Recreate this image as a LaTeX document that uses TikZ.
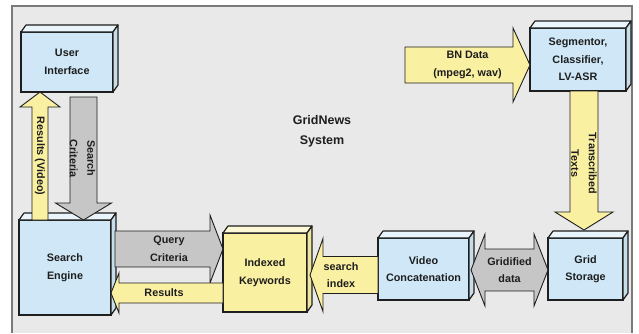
\documentclass[tikz,border=0pt]{standalone}
\usepackage{fontspec}
\setmainfont{Liberation Sans}
\usetikzlibrary{calc}

\definecolor{boxblue}{HTML}{CFE7F6}
\definecolor{boxyellow}{HTML}{FAF0A2}
\definecolor{arrgray}{HTML}{C6C6C6}
\definecolor{panel}{HTML}{E9E9E9}
\definecolor{framegray}{HTML}{7A7A7A}
\definecolor{ink}{HTML}{1E1E1E}

\newcommand{\lblfont}{\fontsize{10.8}{17.5}\selectfont\bfseries}

% top and right faces of a box node
\newcommand{\boxfaces}[2]{%
  \draw[face, fill=#2!45!white] (#1.north west) -- ++(5,-7) -- ($(#1.north east)+(5,-7)$) -- (#1.north east) -- cycle;
  \draw[face, fill=#2!90!gray] (#1.north east) -- ++(5,-7) -- ($(#1.south east)+(5,-7)$) -- (#1.south east) -- cycle;
}

\tikzset{
  box/.style={draw=ink, line width=1.2pt, fill=boxblue, outer sep=0pt, inner sep=2pt,
    align=center, font=\lblfont, text=ink},
  face/.style={draw=ink, line width=1.2pt, line join=round},
  lbl/.style={font=\lblfont, text=ink, align=center, inner sep=0pt},
  yarrow/.style={draw=ink, line width=0.9pt, fill=boxyellow, line join=miter},
  garrow/.style={draw=ink, line width=0.9pt, fill=arrgray, line join=miter},
  % block arrow: half shaft, half head, head length
  fat/.style n args={3}{to path={
    let \p1=(\tikztostart), \p2=(\tikztotarget),
        \n1={atan2(\y2-\y1,\x2-\x1)}, \n2={veclen(\x2-\x1,\y2-\y1)}
    in [shift={(\p1)}, rotate=\n1]
       (0pt,-#1) -- (\n2-#3,-#1) -- (\n2-#3,-#2) -- (\n2,0pt)
       -- (\n2-#3,#2) -- (\n2-#3,#1) -- (0pt,#1) -- cycle}},
  fatboth/.style n args={3}{to path={
    let \p1=(\tikztostart), \p2=(\tikztotarget),
        \n1={atan2(\y2-\y1,\x2-\x1)}, \n2={veclen(\x2-\x1,\y2-\y1)}
    in [shift={(\p1)}, rotate=\n1]
       (0pt,0pt) -- (#3,-#2) -- (#3,-#1) -- (\n2-#3,-#1) -- (\n2-#3,-#2) -- (\n2,0pt)
       -- (\n2-#3,#2) -- (\n2-#3,#1) -- (#3,#1) -- (#3,#2) -- cycle}},
}

\begin{document}
\begin{tikzpicture}[x=1pt, y=-1pt]
  \useasboundingbox (0,0) rectangle (639,333);
  \fill[white] (0,0) rectangle (639,333);

  % panel
  \fill[panel] (12,6) rectangle (632,333);
  \draw[framegray, line width=1.2pt] (12,333) -- (12,6) -- (632,6) -- (632,333);

  % boxes
  \node[box, minimum width=92, minimum height=60] (ui) at (67,62) {User\\Interface};
  \node[box, minimum width=96, minimum height=63] (seg) at (578,59.5) {Segmentor,\\Classifier,\\LV-ASR};
  \node[box, minimum width=92, minimum height=95] (se) at (65,267.5) {Search\\Engine};
  \node[box, fill=boxyellow, minimum width=84, minimum height=79] (ik) at (265,272.5) {Indexed\\Keywords};
  \node[box, minimum width=91, minimum height=62] (vc) at (423.5,269) {Video\\Concatenation};
  \node[box, minimum width=75, minimum height=62] (gs) at (585.5,269) {Grid\\Storage};
  \boxfaces{ui}{boxblue}
  \boxfaces{seg}{boxblue}
  \boxfaces{se}{boxblue}
  \boxfaces{ik}{boxyellow}
  \boxfaces{vc}{boxblue}
  \boxfaces{gs}{boxblue}

  % arrows
  \coordinate (resUp) at ($(se.north)+(-25,0)$);
  \draw[yarrow, fat={8pt}{20pt}{15pt}] (resUp) to (resUp |- ui.south);
  \coordinate (critTop) at ($(ui.south)+(16.5,5)$);
  \draw[garrow, fat={13.5pt}{28pt}{17pt}] (critTop) to (critTop |- se.north);
  \coordinate (qStart) at ($(se.east)+(4,-18.5)$);
  \draw[garrow, fat={18pt}{34pt}{13pt}] (qStart) to (qStart -| ik.west);
  \coordinate (rStart) at ($(ik.west)+(0,20.5)$);
  \draw[yarrow, fat={10pt}{20pt}{8pt}] (rStart) to (rStart -| se.east);
  \coordinate (siStart) at ($(vc.west)+(0,6)$);
  \coordinate (siTip) at ($(siStart -| ik.east)+(3,0)$);
  \draw[yarrow, fat={18.5pt}{36.5pt}{13pt}] (siStart) to (siTip);
  \coordinate (gLeft) at ($(vc.east)+(2,1)$);
  \draw[garrow, fatboth={21pt}{36pt}{14pt}] (gLeft) to (gLeft -| gs.west);
  \coordinate (bnStart) at (405,65);
  \draw[yarrow, fat={18pt}{37pt}{17pt}] (bnStart) to (bnStart -| seg.west);
  \coordinate (ttTop) at ($(seg.south)+(6,0)$);
  \coordinate (ttTip) at ($(ttTop |- gs.north)+(0,-8)$);
  \draw[yarrow, fat={14pt}{29pt}{18pt}] (ttTop) to (ttTip);

  % arrow labels
  \node[lbl, rotate=-90] (resLbl) at ($(resUp)!0.5!(resUp |- ui.south)$) {Results (Video)};
  \node[lbl, rotate=-90] (critLbl) at ($(critTop)!0.5!(critTop |- se.north)+(-1,0)$) {Search\\Criteria};
  \node[lbl] (qLbl) at ($(qStart)!0.5!(qStart -| ik.west)$) {Query\\Criteria};
  \node[lbl] (rLbl) at ($(rStart)!0.5!(rStart -| se.east)+(-3,0)$) {Results};
  \node[lbl] (siLbl) at ($(siStart)!0.5!(siTip)+(-3,0)$) {search\\index};
  \node[lbl] (gLbl) at ($(gLeft)!0.5!(gLeft -| gs.west)$) {Gridified\\data};
  \node[lbl] (bnLbl) at ($(bnStart)!0.5!(bnStart -| seg.west)$) {BN Data\\(mpeg2, wav)};
  \node[lbl, rotate=-90] (ttLbl) at ($(ttTop)!0.5!(ttTip)+(0,3)$) {Transcribed\\Texts};

  \node[lbl, font=\fontsize{12.5}{20}\selectfont\bfseries] (title) at (322,131) {GridNews\\System};
\end{tikzpicture}
\end{document}
